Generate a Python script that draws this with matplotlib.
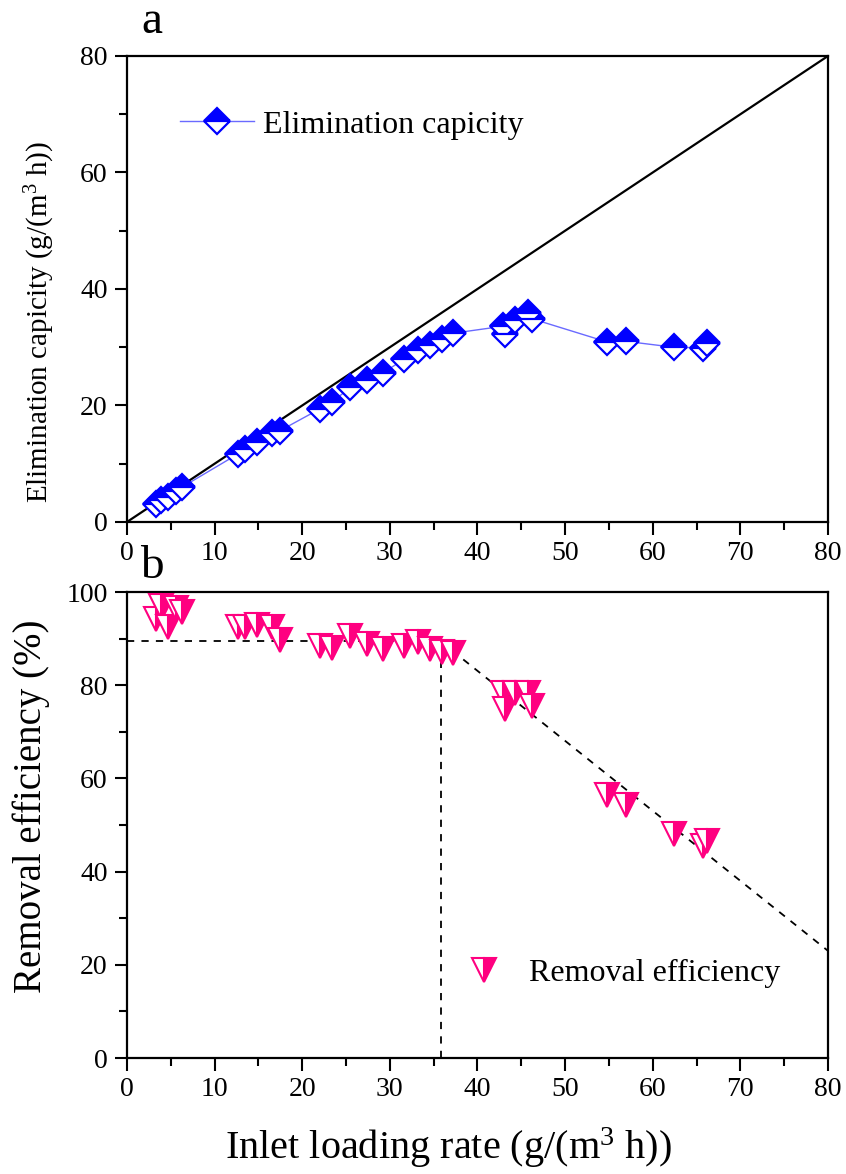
import matplotlib
matplotlib.use("Agg")
import matplotlib.pyplot as plt
from matplotlib.ticker import MultipleLocator

# inlet loading rate, g/(m3 h)
loading = [3.3, 3.9, 4.7, 5.6, 6.3, 12.7, 13.5, 14.8, 16.5, 17.5,
           22.0, 23.4, 25.5, 27.4, 29.2, 31.6, 33.2, 34.6, 36.0, 37.2,
           42.9, 43.1, 44.3, 45.8, 46.2, 54.8, 57.0, 62.4, 65.7, 66.2]
# elimination capacity, g/(m3 h)
ec = [3.1, 3.8, 4.3, 5.4, 6.0, 11.7, 12.5, 13.8, 15.3, 15.7,
      19.4, 20.6, 23.1, 24.3, 25.6, 27.9, 29.6, 30.4, 31.4, 32.4,
      33.6, 32.3, 34.7, 35.9, 34.9, 30.9, 31.0, 30.0, 29.9, 30.8]
# removal efficiency, %
re = [94.2, 97.0, 92.5, 96.5, 95.7, 92.5, 92.5, 93.0, 92.5, 89.7,
      88.4, 88.0, 90.5, 88.8, 87.8, 88.4, 89.3, 87.8, 87.1, 87.0,
      78.3, 74.9, 78.3, 78.3, 75.5, 56.4, 54.3, 48.0, 45.5, 46.5]

# guide lines
diag_x = [0, 80]
diag_y = [0, 80]
plateau_x = [0, 35.8]
plateau_y = [89.4, 89.4]
critical_x = [35.8, 35.8]
critical_y = [0, 89.4]
decline_x = [35.8, 80]
decline_y = [89.4, 23.0]

BLUE = "#0000ff"
PINK = "#ff0080"

plt.rcParams["font.family"] = ["Liberation Serif", "DejaVu Serif"]
plt.rcParams["mathtext.fontset"] = "custom"
plt.rcParams["mathtext.rm"] = "Liberation Serif"
plt.rcParams["mathtext.default"] = "regular"

fig = plt.figure(figsize=(8.46, 11.74), dpi=100)
ax1 = fig.add_axes([0.1501, 0.5554, 0.8286, 0.3969])
ax2 = fig.add_axes([0.1501, 0.0988, 0.8286, 0.3969])

# panel a
ax1.plot(diag_x, diag_y, color="black", lw=1.6, zorder=1)
ax1.plot(loading, ec, color="#6a6aff", lw=1.0, marker="D", ms=13,
         fillstyle="top", markerfacecolor=BLUE, markerfacecoloralt="white",
         markeredgecolor=BLUE, markeredgewidth=1.6,
         label="Elimination capicity", zorder=3)
ax1.set_xlim(0, 80)
ax1.set_ylim(0, 80)
ax1.set_ylabel(r"Elimination capicity (g/(m$^3$ h))", fontsize=21)
ax1.yaxis.set_label_coords(-0.10, 0.43)
ax1.legend(loc="center left", bbox_to_anchor=(0.076, 0.852),
           frameon=False, fontsize=23, handlelength=2.3,
           handletextpad=0.3, borderpad=0, borderaxespad=0, numpoints=1)

# panel b
ax2.plot(plateau_x, plateau_y, color="black", lw=1.3, ls=(0, (4, 4)), zorder=1)
ax2.plot(critical_x, critical_y, color="black", lw=1.3, ls=(0, (4, 4)), zorder=1)
ax2.plot(decline_x, decline_y, color="black", lw=1.3, ls=(0, (4, 4)), zorder=1)
ax2.plot(loading, re, ls="none", marker="v", ms=17,
         fillstyle="right", markerfacecolor=PINK, markerfacecoloralt="white",
         markeredgecolor=PINK, markeredgewidth=1.5,
         label="Removal efficiency", zorder=3)
ax2.set_xlim(0, 80)
ax2.set_ylim(0, 100)
ax2.set_xlabel(r"Inlet loading rate (g/(m$^3$ h))", fontsize=29)
ax2.xaxis.set_label_coords(0.458, -0.145)
ax2.set_ylabel("Removal efficiency (%)", fontsize=28)
ax2.yaxis.set_label_coords(-0.11, 0.54)
ax2.legend(loc="center left", bbox_to_anchor=(0.487, 0.182),
           frameon=False, fontsize=23, handlelength=1.0,
           handletextpad=0.9, borderpad=0, borderaxespad=0, numpoints=1)

for ax in (ax1, ax2):
    ax.xaxis.set_major_locator(MultipleLocator(10))
    ax.xaxis.set_minor_locator(MultipleLocator(5))
    ax.yaxis.set_major_locator(MultipleLocator(20))
    ax.yaxis.set_minor_locator(MultipleLocator(10))
    ax.tick_params(which="major", direction="out", length=9, width=1.5,
                   labelsize=20, top=False, right=False, pad=5)
    ax.tick_params(which="minor", direction="out", length=6, width=1.5,
                   top=False, right=False)
    for s in ax.spines.values():
        s.set_linewidth(1.6)

fig.text(0.167, 0.972, "a", fontsize=34, ha="left", va="baseline")
fig.text(0.165, 0.508, "b", fontsize=34, ha="left", va="baseline")

fig.savefig("out.png", dpi=100)
